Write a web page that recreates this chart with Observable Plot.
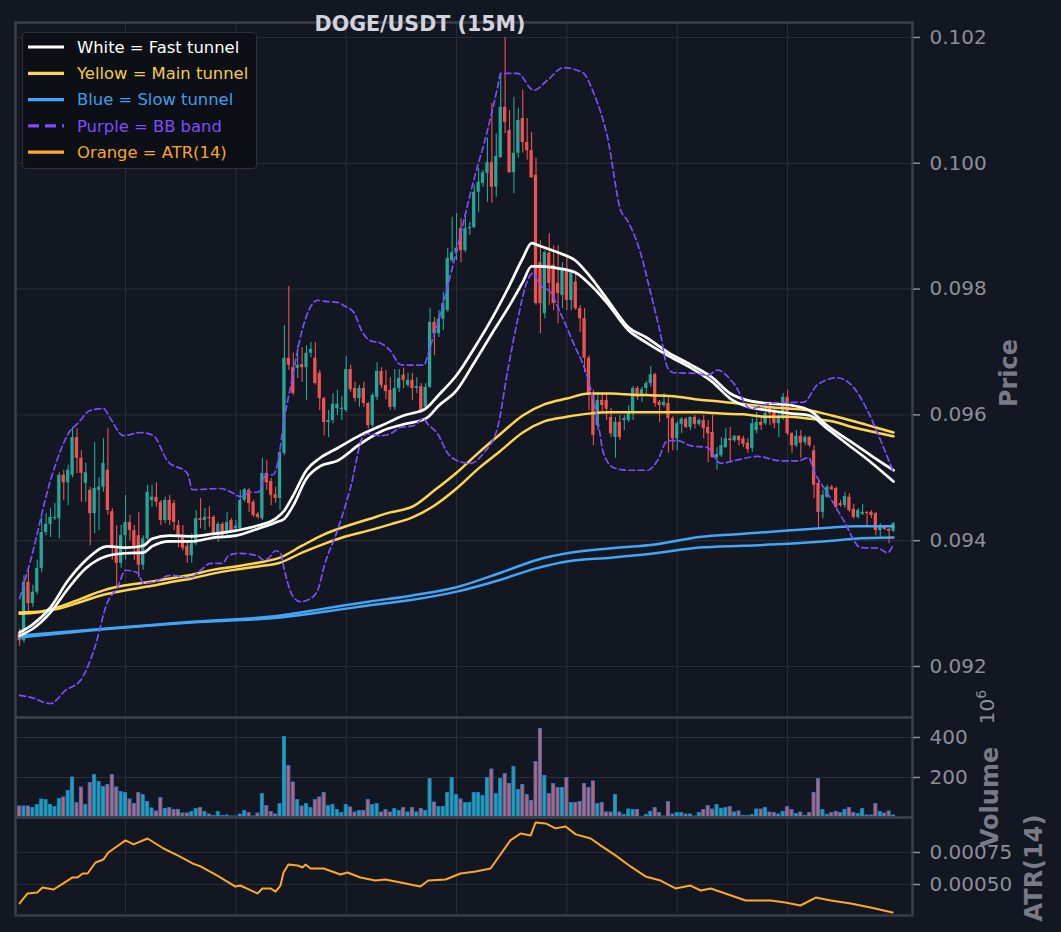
<!DOCTYPE html>
<html><head><meta charset="utf-8">
<script src="https://cdn.jsdelivr.net/npm/d3@7"></script>
<script src="https://cdn.jsdelivr.net/npm/@observablehq/plot@0.6"></script>
<style>
html,body{margin:0;padding:0;background:#131722;}
#wrap{position:relative;width:1061px;height:932px;background:#131722;overflow:hidden;font-family:"DejaVu Sans",sans-serif;}
#wrap > svg{position:absolute;left:0;}
#legend{position:absolute;left:22px;top:32px;width:235px;height:137px;background:#0c0f15;border:1px solid #2c303a;border-radius:4px;box-sizing:border-box;}
#overlay{position:absolute;left:0;top:0;pointer-events:none;}
</style></head><body><div id="wrap"></div>
<script>
// ---- Candles (15-minute DOGE/USDT), index 1..199 ----
const open = [0.09252,0.09241,0.09334,0.09300,0.09318,0.09356,0.09413,0.09426,0.09435,0.09435,
0.09504,0.09492,0.09504,0.09564,0.09531,0.09491,0.09480,0.09443,0.09480,0.09485,
0.09512,0.09446,0.09388,0.09364,0.09408,0.09429,0.09416,0.09408,0.09361,0.09403,
0.09464,0.09469,0.09461,0.09432,0.09464,0.09459,0.09424,0.09405,0.09391,0.09376,
0.09395,0.09435,0.09432,0.09437,0.09437,0.09408,0.09426,0.09413,0.09432,0.09419,
0.09419,0.09464,0.09480,0.09461,0.09442,0.09435,0.09507,0.09494,0.09473,0.09467,
0.09539,0.09690,0.09675,0.09674,0.09680,0.09675,0.09698,0.09690,0.09666,0.09626,
0.09588,0.09591,0.09610,0.09609,0.09607,0.09672,0.09642,0.09626,0.09642,0.09618,
0.09583,0.09628,0.09669,0.09647,0.09639,0.09612,0.09642,0.09663,0.09647,0.09655,
0.09642,0.09645,0.09612,0.09644,0.09747,0.09729,0.09752,0.09766,0.09845,0.09858,
0.09896,0.09861,0.09896,0.09898,0.09954,0.09968,0.09984,0.10001,0.09962,0.10009,
0.10089,0.10052,0.09985,0.10016,0.10071,0.10033,0.10020,0.09981,0.09842,0.09761,
0.09857,0.09838,0.09809,0.09790,0.09830,0.09782,0.09811,0.09769,0.09753,0.09690,
0.09631,0.09583,0.09623,0.09623,0.09596,0.09564,0.09588,0.09591,0.09591,0.09602,
0.09642,0.09631,0.09642,0.09650,0.09664,0.09620,0.09615,0.09618,0.09594,0.09562,
0.09585,0.09593,0.09580,0.09596,0.09585,0.09591,0.09580,0.09572,0.09532,0.09535,
0.09548,0.09562,0.09559,0.09566,0.09562,0.09555,0.09547,0.09575,0.09588,0.09586,
0.09612,0.09604,0.09586,0.09594,0.09628,0.09570,0.09551,0.09566,0.09556,0.09564,
0.09543,0.09491,0.09445,0.09469,0.09485,0.09483,0.09459,0.09456,0.09469,0.09450,
0.09437,0.09442,0.09445,0.09445,0.09443,0.09416,0.09421,0.09418,0.09415];
const high = [0.09260,0.09345,0.09357,0.09329,0.09369,0.09437,0.09443,0.09451,0.09459,0.09508,
0.09512,0.09520,0.09580,0.09578,0.09543,0.09523,0.09485,0.09556,0.09500,0.09562,
0.09578,0.09451,0.09424,0.09424,0.09472,0.09440,0.09424,0.09445,0.09408,0.09488,
0.09488,0.09492,0.09464,0.09469,0.09472,0.09464,0.09432,0.09424,0.09400,0.09411,
0.09448,0.09467,0.09451,0.09454,0.09440,0.09429,0.09429,0.09445,0.09435,0.09432,
0.09480,0.09483,0.09483,0.09464,0.09445,0.09531,0.09527,0.09499,0.09485,0.09543,
0.09742,0.09804,0.09698,0.09710,0.09707,0.09710,0.09715,0.09715,0.09671,0.09628,
0.09607,0.09634,0.09639,0.09629,0.09693,0.09679,0.09652,0.09647,0.09652,0.09620,
0.09634,0.09683,0.09675,0.09671,0.09659,0.09672,0.09672,0.09674,0.09666,0.09666,
0.09659,0.09650,0.09650,0.09769,0.09755,0.09766,0.09795,0.09865,0.09914,0.09920,
0.09912,0.09920,0.09906,0.09965,0.09992,0.09989,0.10040,0.10095,0.10047,0.10140,
0.10200,0.10084,0.10105,0.10087,0.10116,0.10071,0.10049,0.10008,0.09877,0.09861,
0.09888,0.09869,0.09869,0.09842,0.09853,0.09830,0.09825,0.09774,0.09769,0.09694,
0.09639,0.09636,0.09634,0.09634,0.09610,0.09596,0.09599,0.09599,0.09615,0.09645,
0.09645,0.09644,0.09653,0.09677,0.09666,0.09623,0.09634,0.09628,0.09597,0.09589,
0.09596,0.09596,0.09597,0.09599,0.09594,0.09599,0.09591,0.09599,0.09548,0.09564,
0.09578,0.09580,0.09567,0.09567,0.09566,0.09562,0.09594,0.09604,0.09596,0.09615,
0.09620,0.09610,0.09604,0.09634,0.09639,0.09572,0.09575,0.09575,0.09567,0.09566,
0.09551,0.09496,0.09480,0.09488,0.09488,0.09485,0.09464,0.09477,0.09475,0.09458,
0.09451,0.09458,0.09446,0.09448,0.09445,0.09427,0.09422,0.09419,0.09429];
const low = [0.09232,0.09237,0.09284,0.09294,0.09314,0.09349,0.09408,0.09405,0.09432,0.09403,
0.09464,0.09456,0.09500,0.09507,0.09461,0.09461,0.09392,0.09411,0.09416,0.09477,
0.09440,0.09369,0.09326,0.09356,0.09369,0.09400,0.09369,0.09341,0.09353,0.09400,
0.09453,0.09453,0.09424,0.09427,0.09424,0.09416,0.09389,0.09384,0.09364,0.09364,
0.09392,0.09419,0.09416,0.09421,0.09405,0.09397,0.09403,0.09405,0.09413,0.09416,
0.09416,0.09461,0.09445,0.09437,0.09434,0.09432,0.09480,0.09456,0.09459,0.09448,
0.09535,0.09671,0.09631,0.09658,0.09652,0.09623,0.09691,0.09647,0.09607,0.09567,
0.09564,0.09586,0.09599,0.09591,0.09604,0.09636,0.09620,0.09612,0.09612,0.09578,
0.09580,0.09623,0.09642,0.09624,0.09607,0.09607,0.09636,0.09642,0.09644,0.09623,
0.09634,0.09602,0.09610,0.09642,0.09694,0.09723,0.09734,0.09763,0.09842,0.09845,
0.09842,0.09858,0.09885,0.09896,0.09922,0.09962,0.09938,0.09936,0.09946,0.10008,
0.10047,0.09984,0.09952,0.10008,0.10016,0.10005,0.09976,0.09774,0.09729,0.09753,
0.09774,0.09766,0.09745,0.09769,0.09766,0.09766,0.09766,0.09731,0.09667,0.09607,
0.09551,0.09575,0.09604,0.09591,0.09564,0.09531,0.09559,0.09575,0.09588,0.09591,
0.09623,0.09620,0.09631,0.09644,0.09612,0.09588,0.09612,0.09539,0.09543,0.09543,
0.09570,0.09578,0.09575,0.09578,0.09582,0.09562,0.09524,0.09531,0.09512,0.09532,
0.09547,0.09524,0.09556,0.09551,0.09548,0.09539,0.09540,0.09570,0.09575,0.09583,
0.09583,0.09578,0.09564,0.09591,0.09567,0.09539,0.09548,0.09531,0.09551,0.09548,
0.09467,0.09419,0.09435,0.09467,0.09480,0.09451,0.09453,0.09451,0.09445,0.09435,
0.09434,0.09440,0.09424,0.09435,0.09408,0.09405,0.09416,0.09395,0.09413];
const close = [0.09241,0.09334,0.09300,0.09318,0.09356,0.09413,0.09426,0.09437,0.09437,0.09504,
0.09492,0.09512,0.09564,0.09531,0.09507,0.09508,0.09443,0.09483,0.09485,0.09523,
0.09448,0.09388,0.09364,0.09408,0.09429,0.09416,0.09388,0.09361,0.09403,0.09477,
0.09469,0.09461,0.09432,0.09464,0.09432,0.09429,0.09405,0.09388,0.09376,0.09395,
0.09435,0.09432,0.09437,0.09435,0.09408,0.09426,0.09408,0.09429,0.09416,0.09423,
0.09464,0.09481,0.09459,0.09440,0.09437,0.09507,0.09492,0.09472,0.09467,0.09540,
0.09690,0.09679,0.09634,0.09679,0.09675,0.09698,0.09704,0.09650,0.09626,0.09588,
0.09591,0.09617,0.09617,0.09610,0.09672,0.09640,0.09626,0.09642,0.09618,0.09583,
0.09631,0.09669,0.09647,0.09637,0.09612,0.09642,0.09658,0.09655,0.09655,0.09642,
0.09645,0.09607,0.09644,0.09747,0.09729,0.09752,0.09777,0.09849,0.09858,0.09865,
0.09861,0.09896,0.09898,0.09954,0.09970,0.09985,0.10001,0.09962,0.10011,0.10089,
0.10065,0.09985,0.10016,0.10068,0.10033,0.10020,0.09977,0.09777,0.09777,0.09858,
0.09809,0.09777,0.09793,0.09830,0.09782,0.09826,0.09769,0.09753,0.09690,0.09631,
0.09567,0.09623,0.09615,0.09609,0.09570,0.09588,0.09564,0.09594,0.09602,0.09642,
0.09628,0.09640,0.09650,0.09664,0.09618,0.09615,0.09620,0.09594,0.09562,0.09586,
0.09593,0.09580,0.09596,0.09585,0.09591,0.09578,0.09570,0.09532,0.09537,0.09551,
0.09562,0.09559,0.09566,0.09559,0.09553,0.09545,0.09586,0.09588,0.09583,0.09602,
0.09602,0.09586,0.09596,0.09628,0.09570,0.09551,0.09566,0.09555,0.09564,0.09551,
0.09488,0.09445,0.09472,0.09485,0.09481,0.09453,0.09456,0.09470,0.09448,0.09437,
0.09448,0.09445,0.09443,0.09440,0.09416,0.09421,0.09418,0.09415,0.09427];
// volume in millions (axis offset 10^6)
const volume = [55,55,55,47,62,90,87,62,52,92,
100,132,200,72,150,62,172,212,177,152,
162,212,150,127,122,90,67,122,112,77,
45,30,97,42,47,37,37,20,20,27,
42,47,27,15,8,27,8,10,5,5,
15,32,22,5,20,117,57,27,15,67,
403,257,175,87,55,67,47,87,100,122,
57,62,37,22,62,50,25,32,32,87,
62,67,25,37,25,42,32,47,25,47,
25,42,32,192,75,52,52,122,197,112,
90,72,72,122,122,107,197,240,117,192,
217,167,252,137,162,112,82,277,442,207,
117,167,147,147,197,72,72,77,167,147,
180,67,72,25,25,112,25,12,40,37,
37,3,12,28,47,22,5,77,15,22,
22,15,15,5,22,37,57,40,62,43,
47,52,25,30,8,8,12,40,40,47,
25,22,15,28,52,37,17,25,8,22,
122,192,37,13,22,28,22,38,47,22,
17,42,10,10,67,27,20,30,10];

// ---- Indicator lines: [candle index, value] ----
const fastUpper = [[1,.09254],[4,.09267],[8,.09294],[12,.09337],[16,.09369],[21,.09391],[25,.09389],[29,.09392],[31,.09403],[35,.09408],[40,.09407],[45,.09411],[50,.09416],[55,.09424],[59,.09435],[61,.09448],[63,.09472],[66,.09512],[69,.09531],[73,.09547],[78,.09567],[83,.09583],[88,.09599],[93,.09610],[96,.09632],[100,.09663],[104,.09706],[108,.09753],[112,.09806],[115,.09849],[117,.09873],[119,.09868],[123,.09858],[127,.09845],[130,.09822],[134,.09785],[139,.09739],[143,.09723],[148,.09699],[153,.09680],[158,.09659],[162,.09634],[166,.09623],[171,.09618],[176,.09615],[180,.09607],[184,.09583],[189,.09559],[194,.09535],[199,.09512]];
const fastLower = [[1,.09249],[4,.09260],[8,.09286],[12,.09324],[16,.09356],[21,.09376],[25,.09380],[29,.09381],[31,.09391],[35,.09399],[40,.09399],[45,.09405],[50,.09408],[55,.09419],[59,.09429],[61,.09435],[63,.09456],[66,.09499],[69,.09518],[73,.09527],[78,.09553],[83,.09574],[88,.09585],[93,.09594],[96,.09615],[100,.09639],[104,.09683],[108,.09729],[112,.09774],[115,.09811],[117,.09836],[119,.09836],[123,.09833],[127,.09826],[130,.09809],[134,.09779],[139,.09734],[143,.09715],[148,.09694],[153,.09675],[158,.09652],[162,.09626],[166,.09613],[171,.09607],[176,.09602],[180,.09599],[184,.09578],[189,.09551],[194,.09524],[199,.09494]];
const mainUpper = [[1,.09286],[5,.09287],[10,.09295],[15,.09308],[20,.09321],[25,.09329],[30,.09334],[35,.09340],[40,.09346],[45,.09354],[50,.09359],[55,.09365],[60,.09373],[65,.09392],[70,.09410],[75,.09423],[80,.09434],[85,.09445],[90,.09454],[95,.09480],[100,.09508],[105,.09540],[110,.09570],[115,.09599],[120,.09617],[125,.09626],[130,.09634],[135,.09634],[140,.09632],[145,.09631],[150,.09629],[155,.09624],[160,.09621],[165,.09617],[170,.09613],[175,.09610],[180,.09607],[185,.09599],[190,.09590],[195,.09580],[199,.09572]];
const mainLower = [[1,.09284],[5,.09286],[10,.09292],[15,.09303],[20,.09314],[25,.09321],[30,.09327],[35,.09334],[40,.09340],[45,.09348],[50,.09354],[55,.09359],[60,.09365],[65,.09381],[70,.09395],[75,.09407],[80,.09416],[85,.09426],[90,.09437],[95,.09456],[100,.09483],[105,.09515],[110,.09543],[115,.09572],[120,.09590],[125,.09597],[130,.09602],[135,.09604],[140,.09604],[145,.09604],[150,.09604],[155,.09604],[160,.09602],[165,.09601],[170,.09597],[175,.09597],[180,.09594],[185,.09590],[190,.09580],[195,.09572],[199,.09566]];
const slowUpper = [[1,.09249],[20,.09260],[40,.09271],[60,.09281],[70,.09292],[80,.09303],[90,.09313],[100,.09326],[110,.09349],[118,.09369],[125,.09380],[135,.09388],[145,.09394],[155,.09406],[165,.09411],[175,.09416],[185,.09421],[190,.09423],[199,.09423]];
const slowLower = [[1,.09246],[20,.09259],[40,.09270],[60,.09278],[70,.09287],[80,.09297],[90,.09306],[100,.09319],[110,.09338],[118,.09356],[125,.09367],[135,.09373],[145,.09380],[155,.09389],[165,.09392],[175,.09395],[185,.09400],[190,.09403],[199,.09405]];
const bbUpper = [[1,.09308],[3.5,.09369],[8,.09496],[12.5,.09575],[14.1,.09586],[17,.09607],[20,.09610],[21.6,.09594],[24.5,.09567],[28.4,.09572],[31.3,.09567],[34.5,.09527],[39,.09507],[40.2,.09481],[46.5,.09483],[49.5,.09475],[51,.09470],[53.3,.09477],[55.1,.09477],[56.7,.09504],[58.5,.09505],[59.7,.09532],[60.8,.09586],[62.8,.09659],[64.6,.09723],[66.5,.09766],[68.5,.09782],[70.8,.09780],[73,.09779],[74.4,.09774],[76.7,.09763],[78.7,.09731],[80.5,.09718],[82.8,.09714],[85,.09702],[87.3,.09680],[89.6,.09679],[92.5,.09679],[94.1,.09710],[95.7,.09745],[99.3,.09841],[103.9,.09973],[107,.10052],[109.3,.10121],[110,.10143],[113.8,.10143],[117.5,.10116],[120.6,.10132],[124.2,.10152],[128.6,.10144],[131.1,.10111],[134.2,.10041],[137.2,.09925],[138.7,.09909],[141.7,.09857],[144,.09793],[146.2,.09729],[147.8,.09675],[149.2,.09667],[153.7,.09666],[156.9,.09663],[159.1,.09671],[162.8,.09650],[166.6,.09610],[170.2,.09617],[174.1,.09620],[178.6,.09620],[181.8,.09648],[186.3,.09659],[189.9,.09644],[193.1,.09607],[196.1,.09559],[198.8,.09512]];
const bbLower = [[1,.09154],[3.5,.09151],[8,.09141],[11.4,.09162],[14.8,.09178],[17.8,.09225],[20.9,.09302],[23.2,.09326],[25,.09353],[27.7,.09349],[29.1,.09332],[31.3,.09334],[35.2,.09345],[39.7,.09341],[42,.09353],[44.3,.09364],[47,.09364],[48.3,.09376],[50.4,.09380],[54.9,.09376],[56.3,.09369],[57.4,.09372],[59,.09384],[60.1,.09380],[61,.09353],[62.8,.09313],[64.6,.09303],[66.9,.09308],[68.7,.09324],[69.9,.09357],[73,.09416],[76,.09485],[78.7,.09564],[79.8,.09570],[82.8,.09567],[85,.09570],[87.3,.09580],[90.3,.09583],[92.5,.09594],[93.4,.09586],[95.7,.09570],[98,.09539],[100.2,.09527],[103.2,.09523],[106.1,.09539],[109.3,.09580],[111.6,.09671],[113.8,.09750],[116.1,.09814],[117.2,.09825],[119,.09806],[121.3,.09795],[123.6,.09761],[126.5,.09714],[129.7,.09659],[132,.09591],[133.3,.09539],[135.6,.09516],[138.7,.09512],[143.3,.09512],[145.5,.09527],[147.8,.09559],[150.1,.09559],[153,.09551],[156.9,.09548],[159.8,.09523],[162.8,.09527],[168.2,.09534],[173.4,.09527],[177.3,.09527],[179.8,.09532],[180.9,.09512],[184.1,.09475],[187.7,.09432],[191.6,.09389],[195.4,.09388],[197.7,.09381],[198.8,.09392]];
const atr = [[1,.000352],[2.8,.000430],[5,.000438],[6.2,.000477],[8.7,.000461],[10.9,.000508],[13,.000555],[14.1,.000555],[15.3,.000586],[16.4,.000586],[18.2,.000672],[20,.000695],[21.1,.000750],[22.7,.000789],[25,.000844],[26.8,.000813],[30,.000859],[33.6,.000781],[36.8,.000727],[40.2,.000664],[42,.000641],[45.8,.000570],[49.9,.000484],[51,.000492],[54.9,.000430],[56,.000469],[57.9,.000469],[59,.000445],[60.1,.000492],[60.8,.000594],[61.9,.000656],[64,.000648],[65.1,.000633],[65.8,.000656],[66.9,.000625],[69.9,.000625],[73.7,.000578],[75.3,.000594],[78.2,.000555],[81.6,.000531],[83.9,.000539],[87.3,.000516],[91.8,.000484],[93.6,.000531],[97.5,.000539],[100.9,.000586],[104.3,.000602],[107.7,.000625],[109.3,.000703],[112.2,.000844],[114.5,.000898],[116.8,.000883],[117.9,.000984],[120.2,.000977],[122.4,.000938],[124.7,.000953],[127,.000891],[130.4,.000859],[132.6,.000805],[136,.000727],[139.4,.000641],[142.8,.000563],[146.2,.000531],[149.6,.000469],[153,.000492],[155.3,.000453],[157.6,.000469],[160.9,.000430],[165.5,.000375],[171.2,.000375],[174.5,.000359],[177.9,.000336],[181.4,.000398],[184.8,.000375],[189.3,.000352],[193.8,.000320],[198.8,.000281]];

// ---- Ticks ----
const priceTicks = [0.092,0.094,0.096,0.098,0.100,0.102];
const volumeTicks = [200,400];
const atrTicks = [0.0005,0.00075];
const xGrid = [25,50,75,100,125,150,175];

// ---- Styling ----
const UP = "#26a69a", DN = "#ef5350";
const GRID = "#2a2e39", FRAME = "#3a3e48", TICK = "#8c8f98";
const W = 1061, ML = 15, MR = 149;
const xDom = [0.07, 203.3];

const candles = open.map((o, k) => ({
  i: k + 1, o, h: high[k], l: low[k], c: close[k], v: volume[k],
  col: close[k] >= o ? UP : DN
}));
candles.forEach(d => {
  let lo = Math.min(d.o, d.c), hi = Math.max(d.o, d.c);
  if (hi - lo < 0.000018) { const m = (hi + lo) / 2; lo = m - 0.000009; hi = m + 0.000009; }
  d.b1 = lo; d.b2 = hi;
});

const baseStyle = {background: "transparent", color: TICK, fontFamily: "DejaVu Sans, sans-serif", fontSize: "20px", overflow: "visible"};
const axisOpts = (ticks, fmt) => Plot.axisY(ticks, {anchor: "right", tickSize: 7, tickPadding: 10, tickFormat: fmt, stroke: TICK, strokeWidth: 1.5, fill: TICK, fontSize: 20, label: null});
const lineOpts = (stroke, w, extra = {}) => Object.assign({x: d => d[0], y: d => d[1], stroke, strokeWidth: w, curve: "monotone-x"}, extra);

const pricePlot = Plot.plot({
  width: W, height: 720, marginTop: 22, marginBottom: 3, marginLeft: ML, marginRight: MR,
  style: baseStyle,
  x: {domain: xDom, axis: null},
  y: {domain: [0.091189, 0.102238], axis: null},
  marks: [
    Plot.gridX(xGrid, {stroke: GRID, strokeOpacity: 1}),
    Plot.gridY(priceTicks, {stroke: GRID, strokeOpacity: 1}),
    Plot.ruleX(candles, {x: "i", y1: "l", y2: "h", stroke: "col", strokeWidth: 1.1}),
    Plot.rect(candles, {x1: d => d.i - 0.37, x2: d => d.i + 0.37, y1: "b1", y2: "b2", fill: "col"}),
    Plot.line(slowLower, lineOpts("#42a5f5", 2.5)),
    Plot.line(slowUpper, lineOpts("#42a5f5", 2.5)),
    Plot.line(mainLower, lineOpts("#ffd54f", 2.5)),
    Plot.line(mainUpper, lineOpts("#ffd54f", 2.5)),
    Plot.line(fastLower, lineOpts("#ffffff", 2.7)),
    Plot.line(fastUpper, lineOpts("#ffffff", 2.7)),
    Plot.line(bbUpper, lineOpts("#7c4dff", 1.7, {strokeDasharray: "6,3.5"})),
    Plot.line(bbLower, lineOpts("#7c4dff", 1.7, {strokeDasharray: "6,3.5"})),
    Plot.frame({stroke: FRAME, strokeWidth: 2.5}),
    axisOpts(priceTicks, d => d.toFixed(3))
  ]
});
pricePlot.style.top = "0px";

const volPlot = Plot.plot({
  width: W, height: 120, marginTop: 17, marginBottom: 3, marginLeft: ML, marginRight: MR,
  style: baseStyle,
  x: {domain: xDom, axis: null},
  y: {domain: [0, 500], axis: null},
  marks: [
    Plot.gridX(xGrid, {stroke: GRID, strokeOpacity: 1}),
    Plot.gridY(volumeTicks, {stroke: GRID, strokeOpacity: 1}),
    Plot.rect(candles, {x1: d => d.i - 0.34, x2: d => d.i + 0.34, y1: 0, y2: "v", fill: "col", stroke: "#1e7fd6", strokeWidth: 1}),
    Plot.frame({stroke: FRAME, strokeWidth: 2.5}),
    axisOpts(volumeTicks, d => String(d))
  ]
});
volPlot.style.top = "700px";

const atrPlot = Plot.plot({
  width: W, height: 132, marginTop: 17, marginBottom: 17, marginLeft: ML, marginRight: MR,
  style: baseStyle,
  x: {domain: xDom, axis: null},
  y: {domain: [0.000258, 0.001023], axis: null},
  marks: [
    Plot.gridX(xGrid, {stroke: GRID, strokeOpacity: 1}),
    Plot.gridY(atrTicks, {stroke: GRID, strokeOpacity: 1}),
    Plot.line(atr, {x: d => d[0], y: d => d[1], stroke: "#ffa726", strokeWidth: 2}),
    Plot.frame({stroke: FRAME, strokeWidth: 2.5}),
    axisOpts(atrTicks, d => d.toFixed(5))
  ]
});
atrPlot.style.top = "800px";

const wrap = document.getElementById("wrap");
wrap.appendChild(pricePlot);
wrap.appendChild(volPlot);
wrap.appendChild(atrPlot);

// ---- Title and axis labels ----
const ov = d3.select(wrap).append("svg").attr("id", "overlay").attr("width", W).attr("height", 932)
  .style("font-family", "DejaVu Sans, sans-serif");
ov.append("text").attr("x", 420).attr("y", 31).attr("text-anchor", "middle")
  .attr("font-size", 20.6).attr("font-weight", "bold").attr("fill", "#d1d4dc").text("DOGE/USDT (15M)");
const vlabel = (x, y, txt) => ov.append("text").attr("transform", `translate(${x},${y}) rotate(-90)`)
  .attr("text-anchor", "middle").attr("dy", "0.35em").attr("font-size", 24).attr("font-weight", "bold")
  .attr("fill", "#787b86").text(txt);
vlabel(1009, 373, "Price");
vlabel(990, 797, "Volume");
vlabel(1034, 868, "ATR(14)");
const off = ov.append("text").attr("transform", "translate(987,707) rotate(-90)")
  .attr("text-anchor", "middle").attr("dy", "0.35em").attr("font-size", 20).attr("fill", TICK);
off.append("tspan").text("10");
off.append("tspan").attr("dy", "-0.6em").attr("font-size", 14).text("6");

// ---- Legend ----
const legendItems = [
  {label: "White = Fast tunnel", color: "#ffffff", text: "#ffffff", dash: null},
  {label: "Yellow = Main tunnel", color: "#ffd54f", text: "#f5cc45", dash: null},
  {label: "Blue = Slow tunnel", color: "#42a5f5", text: "#3f9fea", dash: null},
  {label: "Purple = BB band", color: "#7c4dff", text: "#7c4dff", dash: "11,6"},
  {label: "Orange = ATR(14)", color: "#ffa726", text: "#f7a52a", dash: null}
];
const lg = d3.select(wrap).append("div").attr("id", "legend");
const ls = lg.append("svg").attr("width", 235).attr("height", 137).style("position", "absolute").style("left", "-1px").style("top", "-1px")
  .style("font-family", "DejaVu Sans, sans-serif");
legendItems.forEach((it, k) => {
  const y = 15 + k * 26.3;
  ls.append("line").attr("x1", 6).attr("x2", 42).attr("y1", y).attr("y2", y)
    .attr("stroke", it.color).attr("stroke-width", 3.2).attr("stroke-dasharray", it.dash);
  ls.append("text").attr("x", 55).attr("y", y).attr("dy", "0.35em").attr("font-size", 16.4)
    .attr("fill", it.text).text(it.label);
});
</script></body></html>
